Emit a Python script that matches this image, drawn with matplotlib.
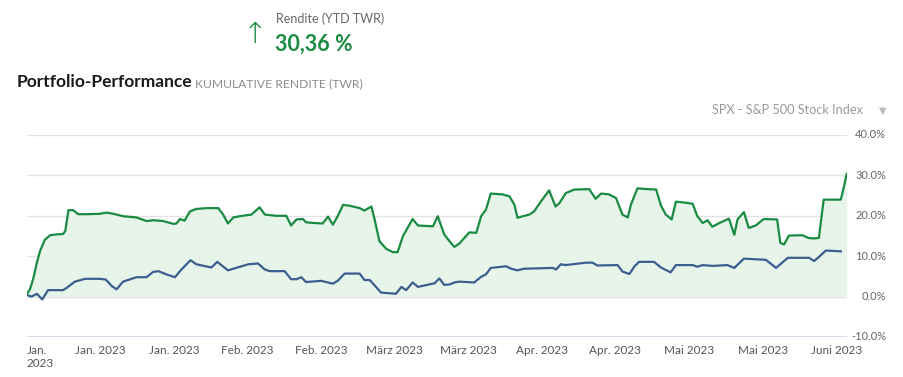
#! /usr/bin/env python3

"""
Portfolio performance (cumulative TWR) vs. S&P 500, Jan - Jun 2023.
"""

import numpy as np
import matplotlib
matplotlib.use("Agg")
import matplotlib.pyplot as plt

# days since 1 Jan 2023 and cumulative return in percent
portfolio_days = [0.0, 0.6, 1.2, 1.9, 2.5, 3.4, 4.4, 5.6, 6.8, 7.2, 7.8, 8.7, 9.6,
                  11.2, 13.7, 14.9, 16.2, 18.0, 20.5, 22.4, 23.6, 25.5, 27.4, 28.0,
                  28.6, 29.5, 30.5, 31.7, 33.6, 35.8, 36.7, 37.6, 38.6, 39.8, 42.0,
                  43.5, 44.5, 46.6, 48.5, 49.4, 50.4, 51.6, 52.2, 53.8, 55.3, 56.3,
                  57.2, 58.1, 59.1, 60.3, 62.2, 63.1, 64.4, 65.0, 65.9, 67.2, 68.4,
                  69.3, 70.3, 72.1, 73.1, 75.9, 76.8, 78.0, 79.0, 79.9, 80.8, 82.7,
                  84.0, 84.9, 85.8, 86.7, 88.9, 90.2, 91.1, 91.7, 92.7, 93.9, 94.8,
                  96.1, 97.6, 98.8, 99.5, 100.7, 102.3, 105.1, 106.3, 107.3, 108.8,
                  110.1, 111.3, 112.3, 112.9, 114.1, 116.0, 117.6, 118.5, 119.4,
                  120.5, 121.3, 122.8, 124.4, 125.3, 126.3, 127.2, 128.1, 129.4,
                  131.2, 132.2, 132.8, 134.0, 134.9, 136.2, 137.7, 140.2, 140.8,
                  141.5, 142.4, 144.9, 146.1, 147.1, 148.0, 148.9, 152.1, 152.7, 153.2]
portfolio_values = [0.6, 1.8, 4.3, 8.4, 11.3, 14.1, 15.2, 15.4, 15.5, 16.2, 21.4, 21.4,
                    20.4, 20.4, 20.5, 20.8, 20.5, 19.9, 19.6, 18.7, 18.9, 18.7, 18.0,
                    18.1, 19.2, 18.8, 21.1, 21.7, 21.9, 21.9, 20.3, 18.1, 19.6, 19.9,
                    20.3, 22.1, 20.3, 20.0, 20.0, 17.6, 19.1, 19.2, 18.4, 18.2, 18.1,
                    19.8, 17.8, 19.9, 22.7, 22.5, 21.9, 21.3, 22.3, 19.1, 13.7, 11.8,
                    11.0, 11.0, 15.0, 19.2, 17.6, 17.4, 19.9, 15.4, 13.7, 12.3, 13.1,
                    15.9, 15.8, 19.9, 21.5, 25.5, 25.3, 24.8, 22.8, 19.5, 19.9, 20.3,
                    21.1, 23.6, 26.3, 22.3, 23.1, 25.6, 26.5, 26.6, 24.2, 25.5, 25.3,
                    24.4, 20.3, 19.6, 22.8, 26.8, 26.6, 26.5, 22.5, 20.3, 19.1, 23.5,
                    23.3, 23.0, 19.9, 18.2, 18.9, 17.3, 18.2, 19.3, 15.3, 19.1, 20.9,
                    17.0, 17.6, 19.2, 19.1, 13.3, 12.9, 15.1, 15.2, 14.5, 14.4, 14.5,
                    24.0, 24.0, 27.3, 30.4]

spx_days = [0.0, 0.9, 1.9, 2.9, 4.0, 6.8, 7.5, 9.0, 10.9, 13.7, 14.8, 15.9, 16.8,
            18.0, 20.5, 22.4, 23.6, 24.6, 26.1, 27.7, 28.9, 30.6, 31.7, 34.5, 35.6,
            37.6, 41.4, 43.2, 44.5, 45.4, 48.2, 49.4, 50.4, 51.3, 52.2, 55.0, 57.2,
            58.1, 59.4, 62.2, 63.1, 64.1, 66.2, 69.0, 70.0, 70.9, 72.1, 73.1, 76.2,
            77.1, 78.0, 79.0, 79.9, 80.8, 83.6, 84.9, 85.8, 86.7, 89.6, 90.5, 91.7,
            92.9, 98.3, 98.9, 99.8, 100.7, 104.5, 105.7, 106.6, 110.4, 111.3, 112.6,
            113.5, 114.4, 117.2, 118.5, 120.3, 121.3, 124.4, 125.3, 126.3, 128.1,
            130.9, 132.2, 134.0, 138.1, 140.0, 142.2, 146.2, 147.1, 148.0, 149.3, 152.1]
spx_values = [0.4, 0.0, 0.7, -0.7, 1.6, 1.6, 2.2, 3.7, 4.4, 4.4, 4.2, 2.6, 1.8, 3.7,
              4.8, 4.8, 6.1, 6.3, 5.5, 4.8, 6.7, 9.0, 8.0, 7.2, 8.6, 6.5, 8.0, 8.2,
              6.7, 6.3, 6.3, 4.3, 4.3, 4.8, 3.6, 3.9, 3.2, 3.9, 5.7, 5.7, 4.1, 4.1,
              1.0, 0.7, 2.4, 1.6, 3.5, 2.4, 3.3, 4.5, 2.9, 3.0, 3.5, 3.7, 3.5, 4.9,
              5.5, 7.1, 7.5, 6.9, 6.5, 6.9, 7.1, 6.7, 8.0, 7.8, 8.4, 8.4, 7.7, 7.8,
              6.2, 5.6, 7.4, 8.6, 8.6, 7.2, 6.0, 7.8, 7.8, 7.4, 7.8, 7.6, 7.8, 7.1,
              9.4, 9.1, 7.1, 9.6, 9.6, 8.8, 9.8, 11.4, 11.2]

x_labels = ["Jan.\n2023", "Jan. 2023", "Jan. 2023", "Feb. 2023", "Feb. 2023",
            "März 2023", "März 2023", "Apr. 2023", "Apr. 2023", "Mai 2023",
            "Mai 2023", "Juni 2023"]
y_ticks = [-10, 0, 10, 20, 30, 40]

GREEN = "#1b8a42"
BLUE = "#3e5d8f"
FONT = ["Lato", "DejaVu Sans"]

plt.rcParams["font.family"] = FONT

W, H = 904, 377
fig = plt.figure(figsize=(W / 100, H / 100), dpi=100)


def px(x, y):
    return x / W, 1 - y / H


ax = fig.add_axes([26.7 / W, (H - 337) / H, 820 / W, 202 / H])

x_end = portfolio_days[-1]
ax.set_xlim(0, x_end)
ax.set_ylim(-10, 40)

for v in y_ticks:
    if v == -10:
        ax.axhline(v, color="#ccd6eb", lw=1.2, zorder=1)
    else:
        ax.axhline(v, color="#e3e3e3", lw=1.0, zorder=1)

ax.fill_between(portfolio_days, portfolio_values, 0, color="#e6f4ea", zorder=2, lw=0)
ax.plot(portfolio_days, portfolio_values, color=GREEN, lw=1.6, zorder=4,
        solid_joinstyle="round")
ax.plot(spx_days, spx_values, color=BLUE, lw=1.6, zorder=3,
        solid_joinstyle="round")

for s in ax.spines.values():
    s.set_visible(False)

# y labels on the right, right-aligned
ax.set_yticks([])
ylab_x = (886 - 26.7) / 820
for v in y_ticks:
    ax.text(ylab_x, v, "%.1f%%" % v, transform=ax.get_yaxis_transform(),
            ha="right", va="center", fontsize=8, color="#666666")

# one tick roughly every 13.75 days
tick_pos = np.arange(len(x_labels)) * 13.75
ax.set_xticks(tick_pos)
ax.set_xticklabels(x_labels)
ax.tick_params(axis="x", length=0, pad=6, labelsize=8.5, labelcolor="#555555")
first = ax.get_xticklabels()[0]
first.set_horizontalalignment("left")
first.set_verticalalignment("top")

# header texts
fig.text(*px(255, 35), "\u2191", color=GREEN, fontsize=21, ha="center", va="center",
         family=["DejaVu Sans"], fontweight="light")
fig.text(*px(276, 19), "Rendite (YTD TWR)", color="#666666", fontsize=9,
         ha="left", va="center")
fig.text(*px(275, 44), "30,36 %", color=GREEN, fontsize=15.5, fontweight="bold",
         ha="left", va="center")
fig.text(*px(17, 82), "Portfolio-Performance", color="#1a1a1a", fontsize=12.5,
         fontweight="bold", ha="left", va="center")
fig.text(*px(195, 84), "KUMULATIVE RENDITE (TWR)", color="#8c8c8c", fontsize=8.7,
         ha="left", va="center")
fig.text(*px(712, 110), "SPX - S&P 500 Stock Index", color="#9a9a9a", fontsize=9.2,
         ha="left", va="center")
fig.text(*px(883, 111), "\u25bc", color="#bbbbbb", fontsize=7, ha="center",
         va="center", family=["DejaVu Sans"])

fig.savefig("out.png", dpi=100)
